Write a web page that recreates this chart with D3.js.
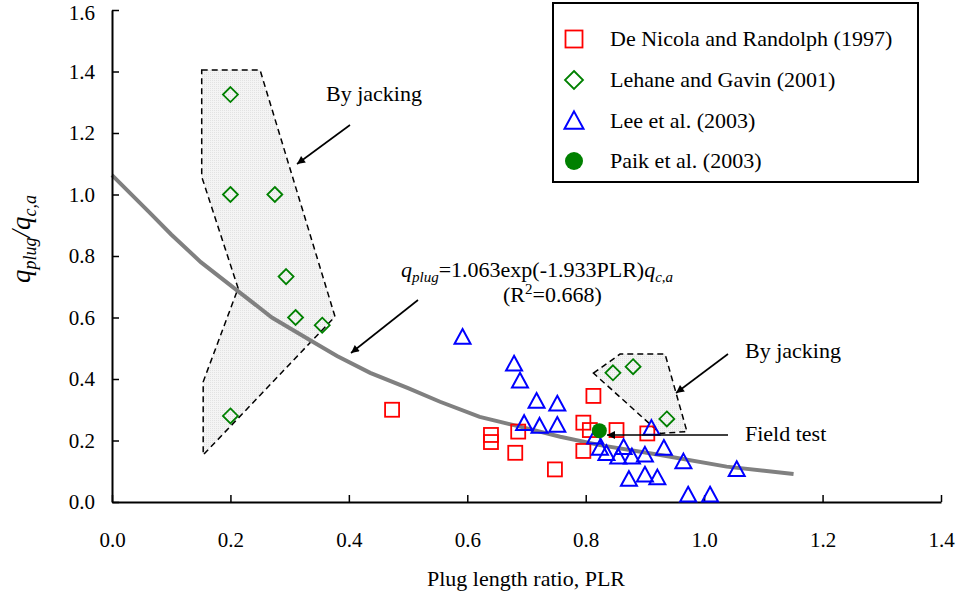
<!DOCTYPE html>
<html>
<head>
<meta charset="utf-8">
<script src="https://cdn.jsdelivr.net/npm/d3@7/dist/d3.min.js"></script>
<style>
  html, body { margin: 0; padding: 0; background: #fff; }
  svg { display: block; font-family: "Liberation Serif", "Times New Roman", serif; }
</style>
</head>
<body>
<svg id="chart" width="956" height="596"></svg>
<script>
// ---- data ----
const xTicks = [0, 0.2, 0.4, 0.6, 0.8, 1.0, 1.2, 1.4];
const yTicks = [0, 0.2, 0.4, 0.6, 0.8, 1.0, 1.2, 1.4, 1.6];

const seriesNames = ["De Nicola and Randolph (1997)", "Lehane and Gavin (2001)", "Lee et al. (2003)", "Paik et al. (2003)"];

const deNicola = [
  [0.473, 0.30], [0.64, 0.218], [0.64, 0.195], [0.686, 0.229], [0.681, 0.16],
  [0.748, 0.106], [0.796, 0.258], [0.796, 0.166], [0.813, 0.345], [0.807, 0.234],
  [0.852, 0.234], [0.904, 0.223]
];
const lehane = [
  [0.2, 1.325], [0.2, 1.0], [0.275, 1.0], [0.294, 0.733], [0.31, 0.60],
  [0.355, 0.575], [0.2, 0.28], [0.846, 0.42], [0.88, 0.44], [0.937, 0.27]
];
const lee = [
  [0.592, 0.536], [0.679, 0.449], [0.689, 0.394], [0.717, 0.328], [0.752, 0.319],
  [0.696, 0.256], [0.722, 0.247], [0.752, 0.250], [0.816, 0.212], [0.824, 0.175],
  [0.835, 0.158], [0.864, 0.178], [0.855, 0.147], [0.878, 0.147], [0.90, 0.153],
  [0.911, 0.240], [0.932, 0.175], [0.965, 0.131], [1.055, 0.106], [0.873, 0.074],
  [0.90, 0.088], [0.921, 0.079], [0.973, 0.023], [1.010, 0.023]
];
const paik = [[0.823, 0.232]];

// fitted curve
const fitCurve = [
  [0, 1.063], [0.064, 0.94], [0.1, 0.87], [0.15, 0.78], [0.21, 0.69], [0.27, 0.6],
  [0.334, 0.527], [0.38, 0.475], [0.436, 0.42], [0.5, 0.37], [0.554, 0.326],
  [0.621, 0.277], [0.689, 0.245], [0.757, 0.212], [0.824, 0.185], [0.926, 0.153],
  [1.038, 0.115], [1.151, 0.091]
];

// shaded "By jacking" regions
const jackRegion1 = [[0.1515, 1.405], [0.25, 1.405], [0.3766, 0.603], [0.154, 0.153], [0.154, 0.391], [0.213, 0.695], [0.1515, 1.058]];
const jackRegion2 = [[0.813, 0.419], [0.858, 0.481], [0.934, 0.481], [0.971, 0.229], [0.926, 0.223]];

// ---- drawing ----
const svg = d3.select("#chart");
const x = d3.scaleLinear().domain([0, 1.4]).range([112, 941]);
const y = d3.scaleLinear().domain([0, 1.6]).range([502, 10]);

const defs = svg.append("defs");
defs.append("marker").attr("id", "arrow").attr("viewBox", "0 0 10 10")
  .attr("refX", 10).attr("refY", 5).attr("markerWidth", 14).attr("markerHeight", 8)
  .attr("markerUnits", "userSpaceOnUse").attr("orient", "auto")
  .append("path").attr("d", "M0,0 L10,5 L0,10 Z").attr("fill", "#000");

const pat = defs.append("pattern").attr("id", "dots").attr("width", 2).attr("height", 2)
  .attr("patternUnits", "userSpaceOnUse");
pat.append("rect").attr("width", 2).attr("height", 2).attr("fill", "#f4f4f4");
pat.append("rect").attr("width", 1).attr("height", 1).attr("fill", "#e2e2e2");

// regions
const poly = d3.line().x(d => x(d[0])).y(d => y(d[1])).curve(d3.curveLinearClosed);
[jackRegion1, jackRegion2].forEach(r => {
  svg.append("path").attr("d", poly(r)).attr("fill", "url(#dots)")
    .attr("stroke", "#000").attr("stroke-width", 1.5).attr("stroke-dasharray", "6,4");
});

// curve
svg.append("path").datum(fitCurve)
  .attr("d", d3.line().x(d => x(d[0])).y(d => y(d[1])))
  .attr("fill", "none").attr("stroke", "#808080").attr("stroke-width", 4);

// axes
const xAxis = d3.axisBottom(x).tickValues(xTicks).tickFormat(d3.format(".1f"))
  .tickSizeInner(-7).tickSizeOuter(0).tickPadding(30);
const yAxis = d3.axisLeft(y).tickValues(yTicks).tickFormat(d3.format(".1f"))
  .tickSizeInner(-7).tickSizeOuter(0).tickPadding(17);

const gx = svg.append("g").attr("transform", "translate(0,502)").call(xAxis);
const gy = svg.append("g").attr("transform", "translate(112,0)").call(yAxis);
[gx, gy].forEach(g => {
  g.select(".domain").attr("stroke", "#000").attr("stroke-width", 2);
  g.selectAll(".tick line").attr("stroke", "#000").attr("stroke-width", 1.5);
  g.selectAll(".tick text").attr("fill", "#000").style("font-size", "21px")
    .style("font-family", "Liberation Serif, Times New Roman, serif");
});
gy.selectAll(".tick text").filter(d => d === 1.6).attr("dy", "0.45em");

// axis titles
svg.append("text").attr("x", 526).attr("y", 586).attr("text-anchor", "middle")
  .style("font-size", "22px").text("Plug length ratio, PLR");

const yl = svg.append("text").attr("transform", "translate(30,239) rotate(-90)")
  .attr("text-anchor", "middle").style("font-style", "italic");
yl.append("tspan").style("font-size", "27px").text("q");
yl.append("tspan").style("font-size", "18px").attr("dy", 6).text("plug");
yl.append("tspan").style("font-size", "27px").attr("dy", -6).text("/q");
yl.append("tspan").style("font-size", "18px").attr("dy", 6).text("c,a");

// markers
const red = "#ff0000", green = "#008000", blue = "#0000ff";
function square(g, cx, cy, s) {
  g.append("rect").attr("x", cx - s / 2).attr("y", cy - s / 2).attr("width", s).attr("height", s)
    .attr("fill", "none").attr("stroke", red).attr("stroke-width", 1.8);
}
function diamond(g, cx, cy, s) {
  const h = s / 2;
  g.append("path").attr("d", `M${cx},${cy - h} L${cx + h},${cy} L${cx},${cy + h} L${cx - h},${cy} Z`)
    .attr("fill", "none").attr("stroke", green).attr("stroke-width", 1.8);
}
function triangle(g, cx, cy, w) {
  const h = w * 0.92;
  g.append("path").attr("d", `M${cx},${cy - h * 0.55} L${cx + w / 2},${cy + h * 0.45} L${cx - w / 2},${cy + h * 0.45} Z`)
    .attr("fill", "none").attr("stroke", blue).attr("stroke-width", 2);
}
function circle(g, cx, cy, r) {
  g.append("circle").attr("cx", cx).attr("cy", cy).attr("r", r).attr("fill", green);
}

const gm = svg.append("g");
deNicola.forEach(d => square(gm, x(d[0]), y(d[1]), 14));
lehane.forEach(d => diamond(gm, x(d[0]), y(d[1]), 15));
lee.forEach(d => triangle(gm, x(d[0]), y(d[1]), 16));
paik.forEach(d => circle(gm, x(d[0]), y(d[1]), 7.5));

// annotations
function arrow(x1, y1, x2, y2) {
  svg.append("line").attr("x1", x1).attr("y1", y1).attr("x2", x2).attr("y2", y2)
    .attr("stroke", "#000").attr("stroke-width", 1.6).attr("marker-end", "url(#arrow)");
}
svg.append("text").attr("x", 326).attr("y", 101).style("font-size", "22px").text("By jacking");
arrow(350, 125, 297, 164);

svg.append("text").attr("x", 745).attr("y", 358).style("font-size", "22px").text("By jacking");
arrow(728, 354, 676, 393);

svg.append("text").attr("x", 745).attr("y", 441).style("font-size", "22px").text("Field test");
arrow(728, 435, 607, 435);

const eq = svg.append("text").attr("x", 401).attr("y", 277).style("font-size", "22px");
eq.append("tspan").style("font-style", "italic").text("q");
eq.append("tspan").style("font-style", "italic").style("font-size", "15px").attr("dy", 5).text("plug");
eq.append("tspan").attr("dy", -5).text("=1.063exp(-1.933PLR)");
eq.append("tspan").style("font-style", "italic").text("q");
eq.append("tspan").style("font-style", "italic").style("font-size", "15px").attr("dy", 5).text("c,a");

const r2 = svg.append("text").attr("x", 503).attr("y", 302).style("font-size", "22px");
r2.append("tspan").text("(R");
r2.append("tspan").style("font-size", "15px").attr("dy", -8).text("2");
r2.append("tspan").attr("dy", 8).text("=0.668)");
arrow(418, 300, 351, 353);

// legend
const lg = svg.append("g");
lg.append("rect").attr("x", 553).attr("y", 3).attr("width", 365).attr("height", 179)
  .attr("fill", "#fff").attr("stroke", "#000").attr("stroke-width", 2);
const rowsY = [39, 80, 121, 161];
square(lg, 574, rowsY[0], 17);
diamond(lg, 574, rowsY[1], 18);
triangle(lg, 574, rowsY[2], 19);
circle(lg, 574, rowsY[3], 9);
seriesNames.forEach((n, i) => {
  lg.append("text").attr("x", 610).attr("y", rowsY[i] + 7).style("font-size", "22px").text(n);
});
</script>
</body>
</html>
